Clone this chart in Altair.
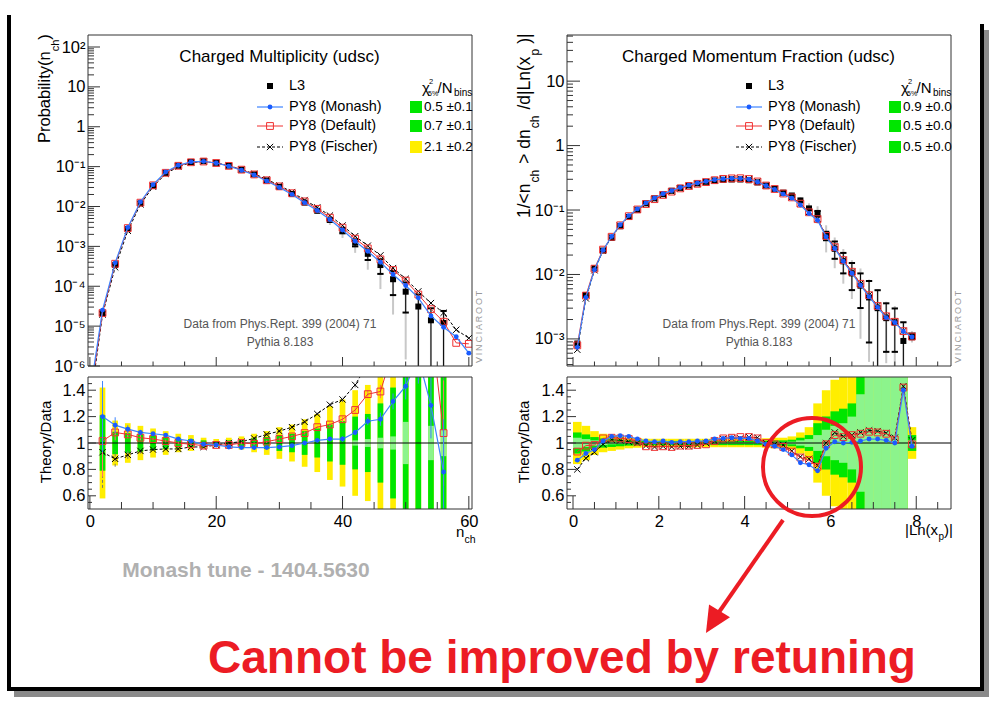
import altair as alt
import pandas as pd

FONT = "Liberation Sans"

# ======================= left panel: charged multiplicity (udsc) =======================
n_ch = [2, 4, 6, 8, 10, 12, 14, 16, 18, 20, 22, 24, 26, 28,
        30, 32, 34, 36, 38, 40, 42, 44, 46, 48, 50, 52, 54, 56]
l3_mult = [2.1e-5, 3.4e-4, 2.7e-3, 1.2e-2, 3.3e-2, 6.9e-2, 0.105, 0.13, 0.137, 0.125,
           0.106, 0.084, 0.064, 0.045, 0.031, 0.0205, 0.0125, 0.0078, 0.0046, 0.0025,
           1.25e-3, 6.5e-4, 3.4e-4, 1.5e-4, 7.3e-5, 3.1e-5, 1.4e-5, 1.2e-5]
l3_mult_err_tot = [0.2, 0.08, 0.07, 0.06, 0.05, 0.04, 0.03, 0.03, 0.02, 0.02,
                   0.02, 0.03, 0.03, 0.04, 0.06, 0.07, 0.09, 0.15, 0.25, 0.35,
                   0.45, 0.6, 0.75, 0.87, 0.98, 1.0, 1.0, 1.0]
l3_mult_err_stat = [0.1, 0.04, 0.03, 0.02, 0.01, 0.01, 0.01, 0.01, 0.01, 0.01,
                    0.01, 0.01, 0.01, 0.02, 0.03, 0.04, 0.05, 0.07, 0.1, 0.15,
                    0.2, 0.3, 0.4, 0.6, 0.7, 1.0, 1.0, 1.0]
ratio_mult_monash = [1.20, 1.135, 1.105, 1.08, 1.07, 1.06, 1.03, 1.015, 0.99, 0.985,
                     0.97, 0.965, 0.965, 0.965, 0.97, 0.98, 1.0, 1.02, 1.03, 1.03,
                     1.08, 1.165, 1.18, 1.315, 1.43, 1.65, 1.285, 0.78]
ratio_mult_default = [1.015, 1.08, 1.065, 1.04, 1.03, 1.015, 1.0, 0.99, 0.98, 0.985,
                      0.985, 1.0, 0.995, 1.01, 1.03, 1.05, 1.075, 1.12, 1.14, 1.18,
                      1.25, 1.37, 1.39, 1.7, 1.9, 2.0, 1.9, 1.075]
ratio_mult_fischer = [0.93, 0.88, 0.91, 0.94, 0.95, 0.955, 0.955, 0.97, 0.97, 0.985,
                      1.0, 1.01, 1.035, 1.065, 1.09, 1.12, 1.16, 1.22, 1.29, 1.33,
                      1.44, 1.6, 1.75, 1.9, 2.1, 2.4, 2.7, 1.8]
mc_mult_err = [0.27, 0.06, 0.03, 0.02, 0.01, 0.01, 0.01, 0.01, 0.01, 0.01,
               0.01, 0.01, 0.01, 0.01, 0.01, 0.01, 0.01, 0.01, 0.015, 0.02,
               0.02, 0.03, 0.05, 0.06, 0.1, 0.2, 0.25, 0.4]
band_mult_sigma = [0.21, 0.085, 0.075, 0.065, 0.055, 0.045, 0.035, 0.03, 0.02, 0.015,
                   0.02, 0.025, 0.035, 0.045, 0.06, 0.07, 0.09, 0.11, 0.14, 0.165,
                   0.2, 0.22, 0.3, 0.42, 0.6, 0.8, 1.0, 1.0]
band_mult_pale = [0.0, 0.0, 0.0, 0.0, 0.0, 0.0, 0.0, 0.0, 0.0, 0.0,
                  0.0, 0.0, 0.0, 0.0, 0.0, 0.0, 0.0, 0.0, 0.0, 0.0,
                  0.02, 0.03, 0.04, 0.05, 0.16, 0.0, 0.13, 0.1]
tail_mult_n = [0, 58, 60]
tail_mult_monash = [2e-7, 5.4e-6, 2.1e-6]
tail_mult_default = [1.5e-7, 3.8e-6, 3.6e-6]
tail_mult_fischer = [1e-7, 8.1e-6, 5.0e-6]
chi2_mult_text = ["0.5 ±0.1", "0.7 ±0.1", "2.1 ±0.2"]
chi2_mult_color = ["#00e600", "#00e600", "#ffee00"]

# ======================= right panel: charged momentum fraction =======================
ln_xp = [0.1, 0.3, 0.5, 0.7, 0.9, 1.1, 1.3, 1.5, 1.7, 1.9,
         2.1, 2.3, 2.5, 2.7, 2.9, 3.1, 3.3, 3.5, 3.7, 3.9,
         4.1, 4.3, 4.5, 4.7, 4.9, 5.1, 5.3, 5.5, 5.7, 5.9,
         6.1, 6.3, 6.5, 6.7, 6.9, 7.1, 7.3, 7.5, 7.7, 7.9]
l3_xp = [8.5e-4, 4.8e-3, 0.0125, 0.0235, 0.037, 0.056, 0.078, 0.101, 0.127, 0.152,
         0.176, 0.199, 0.221, 0.241, 0.259, 0.274, 0.286, 0.294, 0.298, 0.298,
         0.29, 0.268, 0.24, 0.214, 0.186, 0.168, 0.141, 0.106, 0.088, 0.040,
         0.025, 0.016, 0.0104, 0.0067, 0.0044, 0.0030, 0.0021, 0.0018, 0.00093, 0.0011]
l3_xp_err_stat = [0.04, 0.02, 0.01, 0.01, 0.01, 0.01, 0.01, 0.01, 0.01, 0.01,
                  0.01, 0.01, 0.01, 0.01, 0.01, 0.01, 0.01, 0.01, 0.01, 0.01,
                  0.01, 0.01, 0.01, 0.01, 0.02, 0.03, 0.05, 0.07, 0.1, 0.15,
                  0.3, 0.35, 0.45, 0.55, 0.8, 0.9, 0.7, 0.65, 0.95, 0.1]
l3_xp_err_tot = [0.08, 0.05, 0.03, 0.02, 0.02, 0.02, 0.02, 0.02, 0.02, 0.02,
                 0.02, 0.02, 0.02, 0.02, 0.02, 0.02, 0.02, 0.02, 0.02, 0.02,
                 0.02, 0.02, 0.02, 0.03, 0.05, 0.08, 0.12, 0.2, 0.3, 0.45,
                 0.5, 0.55, 0.6, 0.85, 0.9, 0.97, 0.8, 0.8, 0.97, 0.2]
ratio_xp_monash = [0.87, 0.92, 0.95, 1.015, 1.05, 1.055, 1.05, 1.03, 1.015, 1.01,
                   1.015, 1.005, 1.01, 1.01, 1.015, 1.015, 1.03, 1.035, 1.04, 1.035,
                   1.035, 1.015, 0.99, 0.975, 0.95, 0.91, 0.85, 0.835, 0.79, 0.96,
                   1.01, 1.0, 1.005, 1.015, 1.03, 1.03, 1.02, 1.0, 1.40, 0.975]
ratio_xp_default = [0.935, 0.98, 0.985, 1.035, 1.04, 1.035, 1.03, 1.01, 0.975, 0.97,
                    0.975, 0.97, 0.98, 0.98, 0.985, 0.99, 1.015, 1.035, 1.04, 1.045,
                    1.045, 1.035, 1.0, 0.99, 0.97, 0.935, 0.89, 0.87, 0.82, 0.99,
                    1.06, 1.045, 1.06, 1.07, 1.085, 1.08, 1.07, 1.025, 1.42, 0.99]
ratio_xp_fischer = [0.80, 0.885, 0.93, 0.99, 1.025, 1.02, 1.01, 1.0, 0.98, 0.97,
                    0.975, 0.97, 0.975, 0.975, 0.985, 1.0, 1.015, 1.03, 1.035, 1.035,
                    1.045, 1.04, 1.0, 0.99, 0.985, 0.94, 0.895, 0.88, 0.83, 1.0,
                    1.08, 1.05, 1.06, 1.08, 1.095, 1.09, 1.075, 1.04, 1.43, 1.02]
band_xp_sigma = [0.08, 0.065, 0.045, 0.035, 0.03, 0.025, 0.02, 0.018, 0.016, 0.016,
                 0.016, 0.016, 0.016, 0.016, 0.016, 0.016, 0.016, 0.016, 0.016, 0.016,
                 0.016, 0.016, 0.018, 0.02, 0.02, 0.025, 0.04, 0.06, 0.15, 0.2,
                 0.24, 0.26, 0.3, 0.55, 0.7, 0.7, 0.7, 0.7, 0.7, 0.06]
band_xp_pale = [0.04, 0.03, 0.02, 0.015, 0.01, 0.008, 0.006, 0.005, 0.005, 0.005,
                0.005, 0.005, 0.005, 0.005, 0.005, 0.005, 0.005, 0.005, 0.005, 0.005,
                0.005, 0.005, 0.005, 0.006, 0.008, 0.01, 0.02, 0.03, 0.06, 0.1,
                0.13, 0.15, 0.2, 0.37, 0.7, 0.7, 0.7, 0.7, 0.7, 0.02]
chi2_xp_text = ["0.9 ±0.0", "0.5 ±0.0", "0.5 ±0.0"]
chi2_xp_color = ["#00e600", "#00e600", "#00e600"]

# ======================= tick values / labels =======================
mult_x_major = [0, 20, 40, 60]
mult_x_minor = [5, 10, 15, 25, 30, 35, 45, 50, 55]
xp_x_major = [0, 2, 4, 6, 8]
xp_x_minor = [0.5, 1, 1.5, 2.5, 3, 3.5, 4.5, 5, 5.5, 6.5, 7, 7.5, 8.5]
ratio_y_major = [0.6, 0.8, 1.0, 1.2, 1.4]
ratio_y_minor = [0.55, 0.65, 0.7, 0.75, 0.85, 0.9, 0.95, 1.05, 1.1, 1.15, 1.25, 1.3, 1.35, 1.45]
mult_y_major = [1e-6, 1e-5, 1e-4, 1e-3, 1e-2, 1e-1, 1, 10, 100]
mult_y_labels = ["10⁻⁶", "10⁻⁵", "10⁻⁴", "10⁻³", "10⁻²", "10⁻¹", "1", "10", "10²"]
xp_y_major = [1e-3, 1e-2, 1e-1, 1, 10]
xp_y_labels = ["10⁻³", "10⁻²", "10⁻¹", "1", "10"]
mult_y_minor = [m * 10.0 ** e for e in range(-6, 3) for m in range(2, 10) if m * 10.0 ** e < 199]
xp_y_minor = [m * 10.0 ** e for e in range(-4, 2) for m in range(2, 10) if 3.8e-4 < m * 10.0 ** e < 52]

# ======================= style =======================
GREEN = "#00e600"
YELLOW = "#ffee00"
BLUE_L = "#3d84ff"
BLUE_M = "#1a5cff"
RED = "#f03030"
ANNOT = "#ec1c24"
FRAME = "#333333"
XMARK = "M-1,-1L1,1M-1,1L1,-1"
HBAR = "M-1,0L1,0"
ARROWHEAD = "M0,-1L0.85,0.8L-0.85,0.8Z"

W, HM, HR = 384, 331, 132
ORG_LM, ORG_LR, ORG_RM, ORG_RR = (88, 35), (88, 377), (567, 35), (567, 377)
ONE = pd.DataFrame({"k": [0]})

CW = {"0": 556, "1": 556, "2": 556, "3": 556, "4": 556, "5": 556, "6": 556, "7": 556, "8": 556,
      "9": 556, "/": 278, "<": 584, ">": 584, " ": 278, "|": 260, "(": 333, ")": 333,
      "i": 222, "l": 222, "t": 278, "r": 333, "y": 500, "x": 500, "c": 500, "P": 667}


def tw(s, size):
    return sum(CW.get(c, 556) for c in s) * size / 1000.0


def text(org, s, px, py, size, align="left", baseline="alphabetic", color="black",
         angle=0, weight="normal"):
    kw = dict(text=s, fontSize=size, align=align, baseline=baseline, color=color,
              font=FONT, fontWeight=weight)
    if angle:
        kw["angle"] = angle
    return alt.Chart(ONE).mark_text(**kw).encode(x=alt.value(px - org[0]), y=alt.value(py - org[1]))


def prule(org, x1, y1, x2, y2, color, width=1.0, dash=None):
    kw = dict(color=color, strokeWidth=width)
    if dash:
        kw["strokeDash"] = dash
    return alt.Chart(ONE).mark_rule(**kw).encode(
        x=alt.value(x1 - org[0]), y=alt.value(y1 - org[1]),
        x2=alt.value(x2 - org[0]), y2=alt.value(y2 - org[1]))


def prect(org, x1, y1, x2, y2, color, filled=True, width=1.0):
    kw = dict(color=color, filled=filled)
    if not filled:
        kw["strokeWidth"] = width
    return alt.Chart(ONE).mark_rect(**kw).encode(
        x=alt.value(x1 - org[0]), y=alt.value(y1 - org[1]),
        x2=alt.value(x2 - org[0]), y2=alt.value(y2 - org[1]))


def psym(org, px, py, shape, size, color, filled=True, width=1.0, angle=0):
    kw = dict(shape=shape, size=size, color=color, filled=filled, opacity=1, strokeWidth=width)
    if angle:
        kw["angle"] = angle
    return alt.Chart(ONE).mark_point(**kw).encode(x=alt.value(px - org[0]), y=alt.value(py - org[1]))


def vtitle(org, pieces, xbase, ystart):
    out = []
    y = ystart
    for s, size, dx, gap in pieces:
        out.append(text(org, s, xbase + dx, y, size, angle=270))
        y -= tw(s, size) + gap
    return out


def log_expr(vals, labs):
    e = "'" + labs[-1] + "'"
    for v, lab in reversed(list(zip(vals[:-1], labs[:-1]))):
        e = "datum.value < %.6g ? '%s' : (%s)" % (v * 3.1623, lab, e)
    return e


def series_layers(df, kind, X, Y, yf="v"):
    if kind == "fischer":
        return [alt.Chart(df).mark_line(color="black", strokeWidth=1, strokeDash=[3, 2], clip=True)
                .encode(x=X("x"), y=Y(yf)),
                alt.Chart(df).mark_point(shape=XMARK, size=40, filled=False, color="black",
                                         opacity=1, strokeWidth=1, clip=True)
                .encode(x=X("x"), y=Y(yf))]
    if kind == "default":
        return [alt.Chart(df).mark_line(color=RED, strokeWidth=1, clip=True).encode(x=X("x"), y=Y(yf)),
                alt.Chart(df).mark_point(shape="square", size=46, filled=False, color=RED,
                                         opacity=1, strokeWidth=1, clip=True)
                .encode(x=X("x"), y=Y(yf))]
    return [alt.Chart(df).mark_line(color=BLUE_L, strokeWidth=1.2, clip=True).encode(x=X("x"), y=Y(yf)),
            alt.Chart(df).mark_circle(size=24, color=BLUE_M, opacity=1, clip=True)
            .encode(x=X("x"), y=Y(yf))]


def main_layers(x, data, et, es, mcs, X, Y):
    df = pd.DataFrame({
        "x": x, "v": data, "es": es,
        "lt": [v * (1 - e) if e < 1 else 1e-12 for v, e in zip(data, et)],
        "ht": [v * (1 + e) for v, e in zip(data, et)],
        "ls": [v * (1 - e) if e < 1 else 1e-12 for v, e in zip(data, es)],
        "hs": [v * (1 + e) for v, e in zip(data, es)],
    })
    cap = df[df["es"] >= 0.1]
    L = [
        alt.Chart(df).mark_rule(color="#c8c8c8", strokeWidth=2, clip=True).encode(x=X("x"), y=Y("lt"), y2="ht:Q"),
        alt.Chart(df).mark_rule(color="black", strokeWidth=1, clip=True).encode(x=X("x"), y=Y("ls"), y2="hs:Q"),
        alt.Chart(cap).mark_point(shape=HBAR, size=40, filled=False, color="black", opacity=1, clip=True)
        .encode(x=X("x"), y=Y("ls")),
        alt.Chart(cap).mark_point(shape=HBAR, size=40, filled=False, color="black", opacity=1, clip=True)
        .encode(x=X("x"), y=Y("hs")),
        alt.Chart(df).mark_square(size=36, color="black", opacity=1, clip=True).encode(x=X("x"), y=Y("v")),
    ]
    for xs, vs, kind in mcs:
        L += series_layers(pd.DataFrame({"x": xs, "v": vs}), kind, X, Y)
    return L


def ratio_layers(x, halfw, sig, pale, rs, mcerr, X, Y):
    df = pd.DataFrame({
        "x0": [a - halfw for a in x], "x1": [a + halfw for a in x],
        "y0": [1 - 2 * s for s in sig], "y1": [1 + 2 * s for s in sig],
        "g0": [1 - s for s in sig], "g1": [1 + s for s in sig],
        "p0": [1 - p for p in pale], "p1": [1 + p for p in pale], "p": pale,
    })
    L = [
        alt.Chart(df).mark_rect(color=YELLOW, clip=True).encode(x=X("x0"), x2="x1:Q", y=Y("y0"), y2="y1:Q"),
        alt.Chart(df).mark_rect(color=GREEN, clip=True).encode(x=X("x0"), x2="x1:Q", y=Y("g0"), y2="g1:Q"),
        alt.Chart(df[df["p"] > 0]).mark_rect(color="white", opacity=0.55, clip=True)
        .encode(x=X("x0"), x2="x1:Q", y=Y("p0"), y2="p1:Q"),
        alt.Chart(pd.DataFrame({"one": [1.0]})).mark_rule(color="black", strokeWidth=1).encode(y=Y("one")),
    ]
    ecol = {"fischer": "#777777", "default": "#ff7070", "monash": BLUE_L}
    for kind, r in rs:
        d = pd.DataFrame({"x": x, "v": r})
        if mcerr is not None:
            de = pd.DataFrame({"x": x, "lo": [a - e for a, e in zip(r, mcerr)],
                               "hi": [a + e for a, e in zip(r, mcerr)]})
            kw = dict(color=ecol[kind], strokeWidth=1, clip=True)
            if kind == "fischer":
                kw["strokeDash"] = [3, 2]
            L.append(alt.Chart(de).mark_rule(**kw).encode(x=X("x"), y=Y("lo"), y2="hi:Q"))
        L += series_layers(d, kind, X, Y)
    return L


def xticks(vals, length, H, X):
    return alt.Chart(pd.DataFrame({"t": vals})).mark_rule(color=FRAME, strokeWidth=1).encode(
        x=X("t"), y=alt.value(H), y2=alt.value(H - length))


def yticks(vals, length, Y):
    return alt.Chart(pd.DataFrame({"t": vals})).mark_rule(color=FRAME, strokeWidth=1).encode(
        y=Y("t"), x=alt.value(0), x2=alt.value(length))


def frame(org, H):
    return prect(org, org[0], org[1], org[0] + W, org[1] + H, FRAME, filled=False, width=1)


def legend(org, chi_text, chi_col, title):
    ox, oy = org
    L = [
        text(org, title, ox + 191.5, oy + 27, 17, align="center"),
        psym(org, ox + 182, oy + 51, "square", 36, "black"),
        text(org, "L3", ox + 201, oy + 51, 14.5, baseline="middle"),
        prule(org, ox + 169, oy + 72, ox + 195, oy + 72, BLUE_L, 1.2),
        psym(org, ox + 182, oy + 72, "circle", 24, BLUE_M),
        text(org, "PY8 (Monash)", ox + 201, oy + 72, 14.5, baseline="middle"),
        prule(org, ox + 169, oy + 91, ox + 195, oy + 91, RED, 1),
        psym(org, ox + 182, oy + 91, "square", 46, RED, filled=False),
        text(org, "PY8 (Default)", ox + 201, oy + 91, 14.5, baseline="middle"),
        prule(org, ox + 169, oy + 112, ox + 195, oy + 112, "black", 1, dash=[3, 2]),
        psym(org, ox + 182, oy + 112, XMARK, 40, "black", filled=False),
        text(org, "PY8 (Fischer)", ox + 201, oy + 112, 14.5, baseline="middle"),
        text(org, "χ", ox + 334, oy + 58, 15),
        text(org, "2", ox + 341, oy + 49, 7.5),
        text(org, "5%", ox + 340, oy + 61, 7),
        text(org, "/N", ox + 349.5, oy + 58, 15),
        text(org, "bins", ox + 366, oy + 61, 10),
    ]
    for i, (t, c) in enumerate(zip(chi_text, chi_col)):
        yy = oy + [72, 91, 112][i]
        L.append(prect(org, ox + 322, yy - 6, ox + 334, yy + 6, c))
        L.append(text(org, t, ox + 336, yy, 13.5, baseline="middle"))
    L += [
        text(org, "Data from Phys.Rept. 399 (2004) 71", ox + 192, oy + 293, 12, align="center", color="#555555"),
        text(org, "Pythia 8.183", ox + 192, oy + 311, 12, align="center", color="#555555"),
        text(org, "V\u2009I\u2009N\u2009C\u2009I\u2009A\u2009R\u2009O\u2009O\u2009T", ox + 394, oy + 328, 9,
             color="#999999", angle=270),
    ]
    return L


# ======================= scales & axes =======================
XS_MULT = alt.Scale(domain=[-0.3, 60.5], nice=False, zero=False)
YS_MULT = alt.Scale(type="log", domain=[1e-6, 200], nice=False)
XS_XP = alt.Scale(domain=[-0.14, 8.81], nice=False, zero=False)
YS_XP = alt.Scale(type="log", domain=[3.8e-4, 52], nice=False)
YS_R = alt.Scale(domain=[0.5, 1.5], nice=False, zero=False)

AX_MULT_Y = alt.Axis(values=mult_y_major, labelExpr=log_expr(mult_y_major, mult_y_labels), ticks=False,
                     domain=False, grid=False, title=None, labelPadding=3, labelOverlap=False, zindex=1)
AX_XP_Y = alt.Axis(values=xp_y_major, labelExpr=log_expr(xp_y_major, xp_y_labels), ticks=False,
                   domain=False, grid=False, title=None, labelPadding=3, labelOverlap=False, zindex=1)
AX_R_Y = alt.Axis(values=ratio_y_major, labelExpr="datum.value == 1 ? '1' : format(datum.value, '.1f')",
                  ticks=False, domain=False, grid=False, title=None, labelPadding=3, labelOverlap=False,
                  zindex=1)
AX_MULT_X = alt.Axis(values=mult_x_major, format="d", ticks=False, domain=False, grid=False, title=None,
                     labelFlush=False, labelOverlap=False, labelPadding=4, zindex=1)
AX_XP_X = alt.Axis(values=xp_x_major, format="d", ticks=False, domain=False, grid=False, title=None,
                   labelFlush=False, labelOverlap=False, labelPadding=4, zindex=1)


def XF(scale, axis):
    return lambda f: alt.X(f + ":Q", scale=scale, axis=axis)


def YF(scale, axis):
    return lambda f: alt.Y(f + ":Q", scale=scale, axis=axis)


def with_tail(xs, vs, tx, tv):
    pairs = sorted(list(zip(xs, vs)) + list(zip(tx, tv)))
    return [p[0] for p in pairs], [p[1] for p in pairs]


# ======================= left main =======================
X = XF(XS_MULT, None)
Y = YF(YS_MULT, AX_MULT_Y)
mc_mult = [
    with_tail(n_ch, [d * r for d, r in zip(l3_mult, ratio_mult_fischer)], tail_mult_n, tail_mult_fischer) + ("fischer",),
    with_tail(n_ch, [d * r for d, r in zip(l3_mult, ratio_mult_default)], tail_mult_n, tail_mult_default) + ("default",),
    with_tail(n_ch, [d * r for d, r in zip(l3_mult, ratio_mult_monash)], tail_mult_n, tail_mult_monash) + ("monash",),
]

lm = [prect(ORG_LM, 0, 0, 990, 706, "white"),
      # slide frame
      prect(ORG_LM, 14, 691, 989, 697, "#8a8a8a"),
      prect(ORG_LM, 984, 30, 989, 697, "#8a8a8a"),
      prect(ORG_LM, 7, 15, 11, 691, "black"),
      prect(ORG_LM, 7, 687, 984, 691, "black"),
      prect(ORG_LM, 980, 24, 984, 691, "black")]
lm += main_layers(n_ch, l3_mult, l3_mult_err_tot, l3_mult_err_stat, mc_mult, X, Y)
lm += [xticks(mult_x_major, 9, HM, X), xticks(mult_x_minor, 4.5, HM, X),
       yticks(mult_y_major, 12, Y), yticks(mult_y_minor, 6, Y), frame(ORG_LM, HM)]
lm += legend(ORG_LM, chi2_mult_text, chi2_mult_color, "Charged Multiplicity (udsc)")
lm += vtitle(ORG_LM, [("Probability(n", 16.5, 0, 0), ("ch", 11, 8.5, 0), (")", 16.5, 0, 0)], 50, 143)
LM_chart = alt.layer(*lm).properties(width=W, height=HM)

# ======================= left ratio =======================
X = XF(XS_MULT, AX_MULT_X)
Y = YF(YS_R, AX_R_Y)
lr = ratio_layers(n_ch, 0.45, band_mult_sigma, band_mult_pale,
                  [("fischer", ratio_mult_fischer), ("default", ratio_mult_default), ("monash", ratio_mult_monash)],
                  mc_mult_err, X, Y)
lr += [xticks(mult_x_major, 13, HR, X), xticks(mult_x_minor, 7, HR, X),
       yticks(ratio_y_major, 8, Y), yticks(ratio_y_minor, 4, Y), frame(ORG_LR, HR),
       text(ORG_LR, "Theory/Data", 50.5, 442, 15, align="center", angle=270),
       text(ORG_LR, "n", 456, 537, 15),
       text(ORG_LR, "ch", 464.5, 543, 10.5),
       text(ORG_LR, "Monash tune - 1404.5630", 246, 577, 21, align="center", color="#b0b0b0", weight="bold"),
       text(ORG_LR, "Cannot be improved by retuning", 562, 673, 46, align="center", color=ANNOT, weight="bold")]
LR_chart = alt.layer(*lr).properties(width=W, height=HR)

# ======================= right main =======================
X = XF(XS_XP, None)
Y = YF(YS_XP, AX_XP_Y)
mc_xp = [
    (ln_xp, [d * r for d, r in zip(l3_xp, ratio_xp_fischer)], "fischer"),
    (ln_xp, [d * r for d, r in zip(l3_xp, ratio_xp_default)], "default"),
    (ln_xp, [d * r for d, r in zip(l3_xp, ratio_xp_monash)], "monash"),
]
rm = main_layers(ln_xp, l3_xp, l3_xp_err_tot, l3_xp_err_stat, mc_xp, X, Y)
rm += [xticks(xp_x_major, 9, HM, X), xticks(xp_x_minor, 4.5, HM, X),
       yticks(xp_y_major, 13, Y), yticks(xp_y_minor, 6, Y), frame(ORG_RM, HM)]
rm += legend(ORG_RM, chi2_xp_text, chi2_xp_color, "Charged Momentum Fraction (udsc)")
rm += vtitle(ORG_RM, [("1/<n", 17.5, 0, 1), ("ch", 12, 8.5, 6), ("> dn", 17.5, 0, 1), ("ch", 12, 8.5, 6),
                      ("/d|Ln(x", 17.5, 0, 1), ("p", 12, 8.5, 5), (")|", 17.5, 0, 0)], 530, 218)
RM_chart = alt.layer(*rm).properties(width=W, height=HM)

# ======================= right ratio =======================
X = XF(XS_XP, AX_XP_X)
Y = YF(YS_R, AX_R_Y)
rr = ratio_layers(ln_xp, 0.1, band_xp_sigma, band_xp_pale,
                  [("fischer", ratio_xp_fischer), ("default", ratio_xp_default), ("monash", ratio_xp_monash)],
                  None, X, Y)
rr += [xticks(xp_x_major, 13, HR, X), xticks(xp_x_minor, 7, HR, X),
       yticks(ratio_y_major, 9, Y), yticks(ratio_y_minor, 4, Y), frame(ORG_RR, HR),
       text(ORG_RR, "Theory/Data", 529, 442, 15, align="center", angle=270),
       text(ORG_RR, "|Ln(x", 905, 535, 15),
       text(ORG_RR, "p", 938.5, 540, 10),
       text(ORG_RR, ")|", 944, 535, 15),
       psym(ORG_RR, 812, 467, "circle", 9604, ANNOT, filled=False, width=4),
       prule(ORG_RR, 783, 520, 717, 615, ANNOT, 4),
       psym(ORG_RR, 713.5, 620.7, ARROWHEAD, 835, ANNOT, filled=True, width=1, angle=211.5)]
RR_chart = alt.layer(*rr).properties(width=W, height=HR)

chart = alt.concat(
    LM_chart, RM_chart, LR_chart, RR_chart,
    columns=2, spacing={"row": 11, "column": 95}, bounds="flush",
).properties(padding=0, background="white").configure_view(strokeWidth=0).configure_axis(
    labelFont=FONT, labelColor="black", labelFontSize=16.5)

chart.save("out.html", embed_options={"renderer": "svg", "actions": False})
